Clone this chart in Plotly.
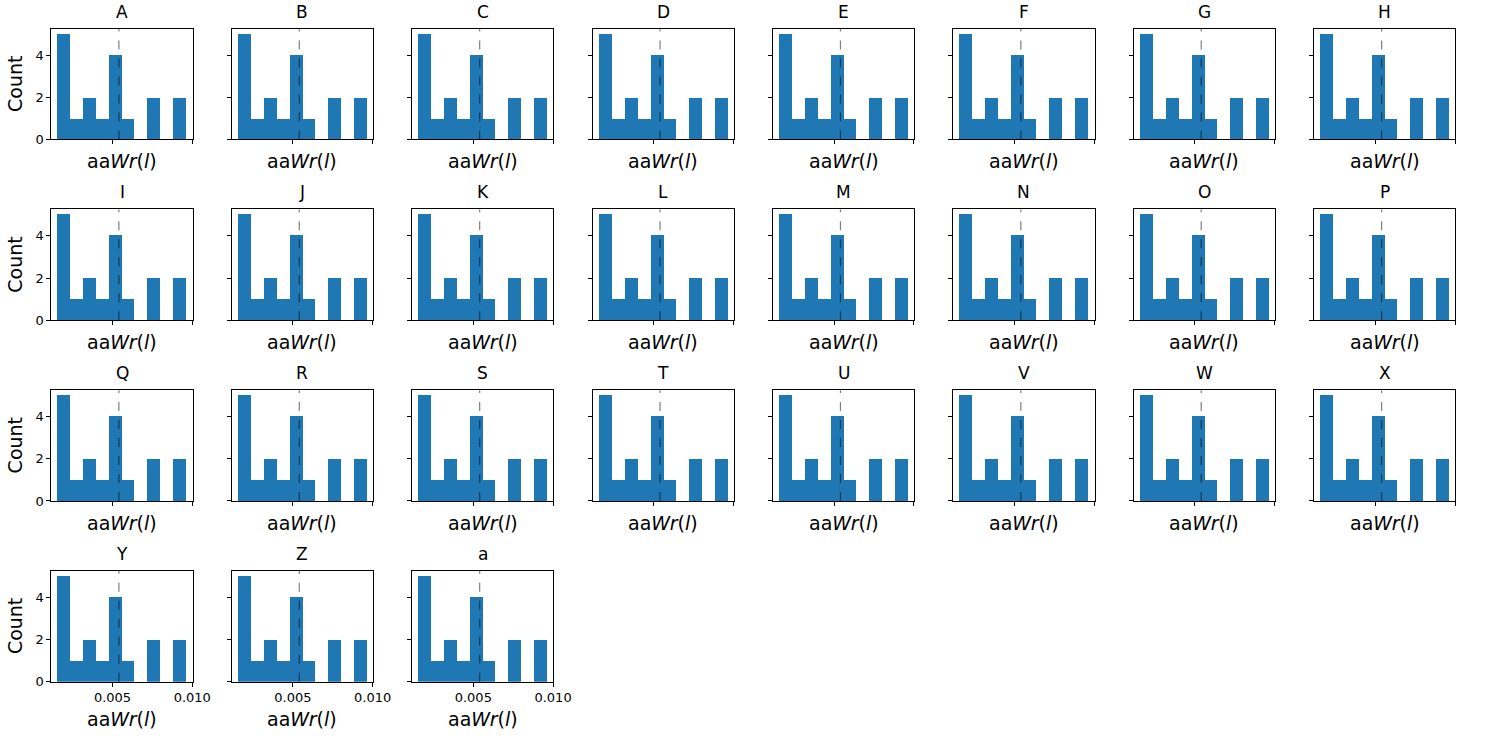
import plotly.graph_objects as go

# panel names, one histogram each (all panels show the same data)
panels = list("ABCDEFGHIJKLMNOPQRSTUVWXYZ") + ["a"]

# histogram: 10 bins between bin_lo and bin_hi
bin_lo = 0.00157
bin_hi = 0.00962
counts = [5, 1, 2, 1, 4, 1, 0, 2, 0, 2]
ref_value = 0.0054  # dashed vertical line

xlabel = "aa<i>Wr</i>(<i>l</i>)"
ylabel = "Count"

W, H = 1487, 745
ncols = 8
# pixel layout of the grid
left0, col_pitch, ax_w = 52, 182.6, 143
top0, row_pitch, ax_h = 29, 182.7, 112

nbins = len(counts)
bw = (bin_hi - bin_lo) / nbins
edges = [bin_lo + i * bw for i in range(nbins)]
span = bin_hi - bin_lo
xrange_ = [bin_lo - 0.05 * span, bin_hi + 0.05 * span]
yrange_ = [0, max(counts) * 1.05]

blue = "#1f77b4"
font = "DejaVu Sans"

fig = go.Figure()
layout = {}
shapes = []
annotations = []

nrows = (len(panels) + ncols - 1) // ncols

for k, name in enumerate(panels):
    r, c = divmod(k, ncols)
    n = k + 1
    xa = "x" if n == 1 else f"x{n}"
    ya = "y" if n == 1 else f"y{n}"

    fig.add_trace(go.Bar(
        x=edges, y=counts, width=[bw] * nbins, offset=0,
        marker=dict(color=blue, line=dict(width=0)),
        xaxis=xa, yaxis=ya, showlegend=False, hoverinfo="skip",
    ))

    px_l = left0 + c * col_pitch
    px_t = top0 + r * row_pitch
    x0, x1 = px_l / W, (px_l + ax_w) / W
    y1, y0 = 1 - px_t / H, 1 - (px_t + ax_h) / H

    bottom_row = (r == nrows - 1)
    first_col = (c == 0)

    layout[f"xaxis{n}"] = dict(
        domain=[x0, x1], anchor=ya, range=xrange_,
        tick0=0, dtick=0.005, tickformat=".3f",
        showticklabels=bottom_row,
        ticks="outside", ticklen=4, tickwidth=1, tickcolor="black",
        showline=True, linecolor="black", linewidth=1, mirror=True,
        showgrid=False, zeroline=False,
        tickfont=dict(family=font, size=13, color="black"),
    )
    layout[f"yaxis{n}"] = dict(
        domain=[y0, y1], anchor=xa, range=yrange_,
        tick0=0, dtick=2,
        showticklabels=first_col,
        ticks="outside", ticklen=4, tickwidth=1, tickcolor="black",
        showline=True, linecolor="black", linewidth=1, mirror=True,
        showgrid=False, zeroline=False,
        tickfont=dict(family=font, size=13, color="black"),
    )

    shapes.append(dict(
        type="line", xref=xa, yref=f"{ya} domain", layer="above",
        x0=ref_value, x1=ref_value, y0=0, y1=1,
        line=dict(color="rgba(0,0,0,0.5)", width=1.2, dash="dash"),
    ))

    # title
    annotations.append(dict(
        text=name, xref="paper", yref="paper",
        x=(x0 + x1) / 2, y=y1 + 5 / H, xanchor="center", yanchor="bottom",
        showarrow=False, font=dict(family=font, size=17, color="black"),
    ))
    # x label
    off = 38 if bottom_row else 22
    annotations.append(dict(
        text=xlabel, xref="paper", yref="paper",
        x=(x0 + x1) / 2, y=y0 - off / H, xanchor="center", yanchor="middle",
        showarrow=False, font=dict(family=font, size=19, color="black"),
    ))
    # y label
    if first_col:
        annotations.append(dict(
            text=ylabel, xref="paper", yref="paper",
            x=x0 - 37 / W, y=(y0 + y1) / 2, xanchor="center", yanchor="middle",
            textangle=-90, showarrow=False,
            font=dict(family=font, size=19, color="black"),
        ))

fig.update_layout(
    width=W, height=H,
    margin=dict(l=0, r=0, t=0, b=0),
    paper_bgcolor="white", plot_bgcolor="white",
    bargap=0, shapes=shapes, annotations=annotations,
    font=dict(family=font, color="black"),
    **layout,
)

# page body margin would shift the fixed-size figure
fig.write_html(
    "out.html",
    config={"displayModeBar": False},
    post_script="document.body.style.margin='0';document.body.style.overflow='hidden';",
)
